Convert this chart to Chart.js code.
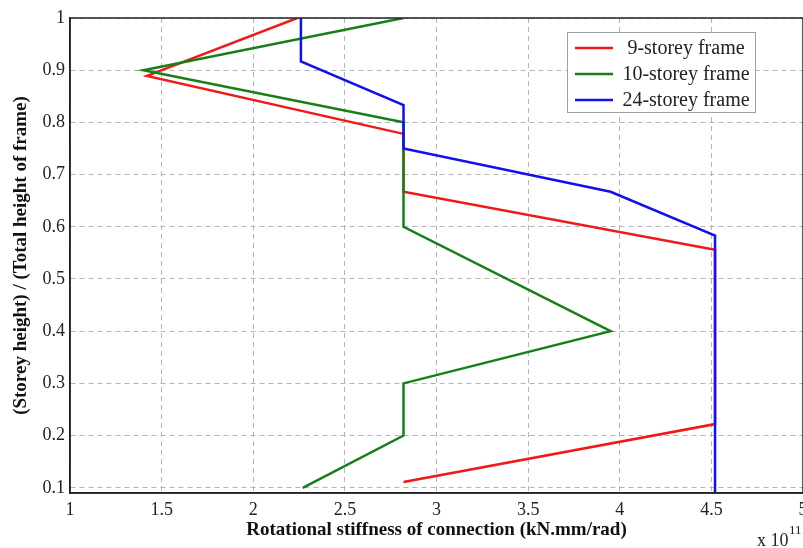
<!DOCTYPE html>
<html>
<head>
<meta charset="utf-8">
<title>Rotational stiffness of connection</title>
<script src="https://cdn.jsdelivr.net/npm/chart.js@4/dist/chart.umd.min.js"></script>
<style>
    html, body { margin: 0; padding: 0; background: #fff; overflow: hidden; }
    canvas { display: block; }
</style>
</head>
<body>
<canvas id="stiffnessChart" width="803" height="548"></canvas>
<script>
// Storey height ratio and connection stiffness (x 10^11 kN.mm/rad) per frame
const frame9Height = [1, 0.889, 0.778, 0.667, 0.556, 0.444, 0.333, 0.222, 0.111];
const frame9Stiffness = [2.24, 1.42, 2.82, 2.82, 4.52, 4.52, 4.52, 4.52, 2.82];

const frame10Height = [1, 0.9, 0.8, 0.7, 0.6, 0.4, 0.3, 0.2, 0.1];
const frame10Stiffness = [2.82, 1.40, 2.82, 2.82, 2.82, 3.95, 2.82, 2.82, 2.27];

const frame24Height = [1, 0.958, 0.917, 0.833, 0.75, 0.667, 0.583, 0.5, 0.042];
const frame24Stiffness = [2.26, 2.26, 2.26, 2.82, 2.82, 3.95, 4.52, 4.52, 4.52];

const seriesLabels = ['9-storey frame', '10-storey frame', '24-storey frame'];
const seriesColors = ['#f01818', '#168016', '#1010f0'];

const xTicks = [1, 1.5, 2, 2.5, 3, 3.5, 4, 4.5, 5];
const yTicks = [0.1, 0.2, 0.3, 0.4, 0.5, 0.6, 0.7, 0.8, 0.9, 1];

const SERIF = '"Liberation Serif", "DejaVu Serif", serif';

/**
 * Pair up x and y arrays into point objects
 */
function toPoints(xs, ys) {
    return xs.map((x, i) => ({ x: x, y: ys[i] }));
}

// Black frame round the plot area
const framePlugin = {
    id: 'plotFrame',
    afterDatasetsDraw(chart) {
        const a = chart.chartArea;
        const ctx = chart.ctx;
        ctx.save();
        ctx.strokeStyle = '#222';
        ctx.lineWidth = 1.5;
        ctx.strokeRect(a.left, a.top, a.right - a.left, a.bottom - a.top);
        ctx.restore();
    }
};

// Legend box in the upper right and the x 10^11 exponent
const legendPlugin = {
    id: 'insideLegend',
    afterDraw(chart) {
        const ctx = chart.ctx;
        ctx.save();

        const box = { x: 567, y: 32, w: 188, h: 80 };
        ctx.fillStyle = '#fff';
        ctx.fillRect(box.x, box.y, box.w, box.h);
        ctx.strokeStyle = '#a0a0a0';
        ctx.lineWidth = 1;
        ctx.strokeRect(box.x + 0.5, box.y + 0.5, box.w, box.h);

        ctx.font = '20px ' + SERIF;
        ctx.textBaseline = 'middle';
        ctx.textAlign = 'center';
        chart.data.datasets.forEach((ds, i) => {
            const y = 48 + i * 26;
            ctx.strokeStyle = ds.borderColor;
            ctx.lineWidth = 2.5;
            ctx.beginPath();
            ctx.moveTo(575, y);
            ctx.lineTo(613, y);
            ctx.stroke();
            ctx.fillStyle = '#222';
            ctx.fillText(ds.label, 686, y + 1);
        });

        ctx.textAlign = 'left';
        ctx.textBaseline = 'alphabetic';
        ctx.fillStyle = '#222';
        ctx.font = '18px ' + SERIF;
        ctx.fillText('x 10', 757, 546);
        ctx.font = '13px ' + SERIF;
        ctx.fillText('11', 789, 534);
        ctx.restore();
    }
};

document.addEventListener('DOMContentLoaded', function() {
    const ctx = document.getElementById('stiffnessChart').getContext('2d');

    const heights = [frame9Height, frame10Height, frame24Height];
    const stiffness = [frame9Stiffness, frame10Stiffness, frame24Stiffness];

    new Chart(ctx, {
        type: 'scatter',
        data: {
            datasets: seriesLabels.map((label, i) => ({
                label: label,
                data: toPoints(stiffness[i], heights[i]),
                showLine: true,
                borderColor: seriesColors[i],
                backgroundColor: seriesColors[i],
                borderWidth: 2.5,
                pointRadius: 0,
                pointHoverRadius: 0,
                tension: 0,
                order: 3 - i
            }))
        },
        options: {
            responsive: false,
            animation: false,
            layout: {
                padding: { top: 18, right: 0, bottom: 0, left: 0 }
            },
            plugins: {
                legend: { display: false },
                tooltip: { enabled: false }
            },
            scales: {
                x: {
                    type: 'linear',
                    min: 1,
                    max: 5,
                    afterBuildTicks: scale => {
                        scale.ticks = xTicks.map(v => ({ value: v }));
                    },
                    afterFit: scale => {
                        scale.height = 55;
                        scale.paddingRight = 0;
                    },
                    grid: {
                        color: '#b4b4b4',
                        lineWidth: 1,
                        drawTicks: false
                    },
                    border: {
                        display: true,
                        color: '#222',
                        width: 1.5,
                        dash: [5, 4]
                    },
                    ticks: {
                        color: '#222',
                        padding: 6,
                        maxRotation: 0,
                        autoSkip: false,
                        callback: value => String(value),
                        font: { family: SERIF, size: 18 }
                    },
                    title: {
                        display: true,
                        text: 'Rotational stiffness of connection (kN.mm/rad)',
                        color: '#111',
                        padding: { top: 0, bottom: 7 },
                        font: { family: SERIF, size: 19, weight: 'bold' }
                    }
                },
                y: {
                    type: 'linear',
                    min: 0.09,
                    max: 1,
                    afterBuildTicks: scale => {
                        scale.ticks = yTicks.map(v => ({ value: v }));
                    },
                    afterFit: scale => {
                        scale.width = 70;
                    },
                    grid: {
                        color: '#b4b4b4',
                        lineWidth: 1,
                        drawTicks: false
                    },
                    border: {
                        display: true,
                        color: '#222',
                        width: 1.5,
                        dash: [5, 4]
                    },
                    ticks: {
                        color: '#222',
                        padding: 5,
                        autoSkip: false,
                        callback: value => String(value),
                        font: { family: SERIF, size: 18 }
                    },
                    title: {
                        display: true,
                        text: '(Storey height) / (Total height of frame)',
                        color: '#111',
                        padding: { top: 10, bottom: 0 },
                        font: { family: SERIF, size: 19, weight: 'bold' }
                    }
                }
            }
        },
        plugins: [framePlugin, legendPlugin]
    });
});
</script>
</body>
</html>
